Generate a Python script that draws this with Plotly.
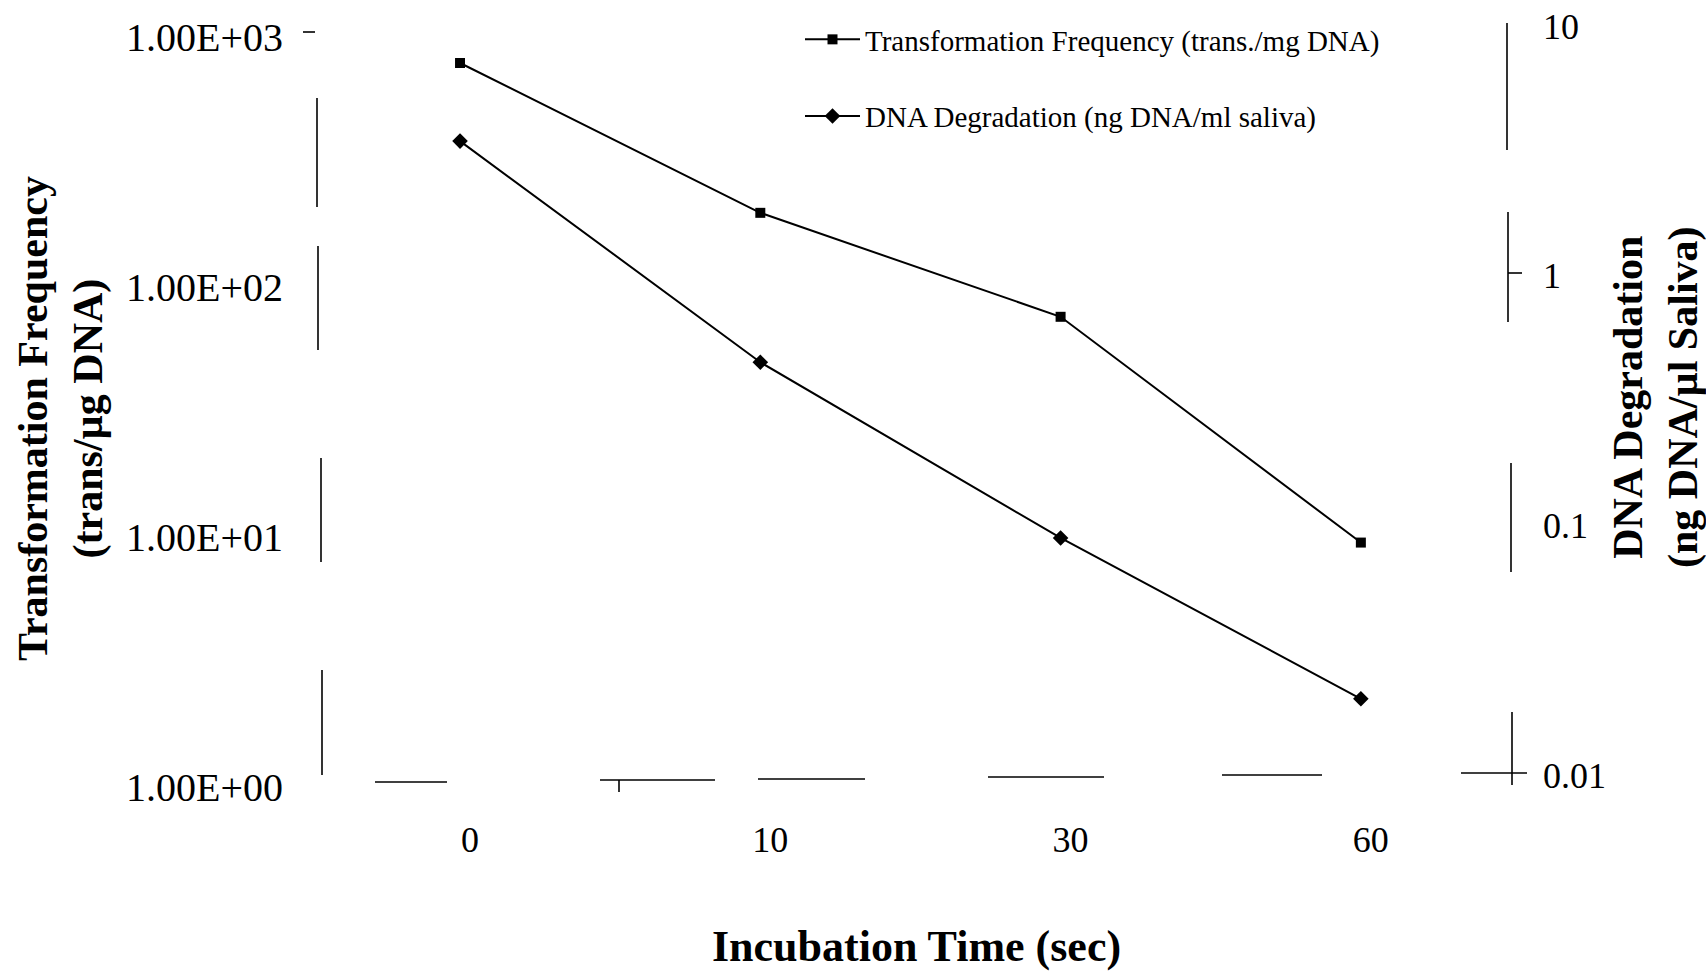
import plotly.graph_objects as go

# Incubation times (sec) and measured series
times = ["0", "10", "30", "60"]
trans_freq = [787, 198, 76, 9.5]            # transformants per µg DNA (left axis)
dna_degradation = [3.46, 0.45, 0.089, 0.0202]  # ng DNA per µl saliva (right axis)

left_tickvals = [1, 10, 100, 1000]
left_ticktext = ["1.00E+00", "1.00E+01", "1.00E+02", "1.00E+03"]
right_tickvals = [0.01, 0.1, 1, 10]
right_ticktext = ["0.01", "0.1", "1", "10"]

W, H = 1706, 978
ML, MR, MT, MB = 318, 198, 24, 191
PW, PH = W - ML - MR, H - MT - MB

FONT = "Liberation Serif, Times New Roman, serif"


def to_paper(px, py):
    return (px - ML) / PW, (H - MB - py) / PH


# Fragments of the axis frame (the printed frame is broken into pieces)
frame_segments = [
    # left axis
    ((317, 98), (317, 207)), ((318, 246), (318, 350)),
    ((321, 458), (321, 562)), ((322, 670), (322, 775)),
    ((303, 32), (315, 32)),
    # right axis
    ((1507, 23), (1507, 150)), ((1508, 212), (1508, 322)),
    ((1508, 273), (1522, 273)),
    ((1511, 463), (1511, 572)), ((1512, 712), (1512, 785)),
    ((1461, 773), (1527, 773)),
    # bottom axis
    ((375, 782), (447, 782)), ((600, 780), (715, 780)),
    ((619, 780), (619, 792)), ((758, 779), (865, 779)),
    ((988, 777), (1104, 777)), ((1222, 775), (1322, 775)),
]

shapes = []
for (x0, y0), (x1, y1) in frame_segments:
    a0, b0 = to_paper(x0, y0)
    a1, b1 = to_paper(x1, y1)
    shapes.append(dict(type="line", xref="paper", yref="paper",
                       x0=a0, y0=b0, x1=a1, y1=b1,
                       line=dict(color="black", width=1.6)))

fig = go.Figure()
fig.add_trace(go.Scatter(
    x=times, y=trans_freq, mode="lines+markers",
    name="Transformation Frequency (trans./mg DNA)",
    line=dict(color="black", width=2),
    marker=dict(symbol="square", size=10, color="black"),
    legendgroup="a",
))
fig.add_trace(go.Scatter(
    x=times, y=dna_degradation, mode="lines+markers", yaxis="y2",
    name="DNA Degradation (ng DNA/ml saliva)",
    line=dict(color="black", width=2),
    marker=dict(symbol="diamond", size=12, color="black"),
    legendgroup="b",
))

tx, ty = to_paper(61, 419)
rx, ry = to_paper(1656, 397)
bx, by = to_paper(916, 946)

fig.update_layout(
    width=W, height=H,
    margin=dict(l=ML, r=MR, t=MT, b=MB, autoexpand=False),
    paper_bgcolor="white", plot_bgcolor="white",
    font=dict(family=FONT, color="black"),
    showlegend=True,
    legend=dict(
        x=to_paper(800, 0)[0], xanchor="left",
        y=to_paper(0, 14)[1], yanchor="top",
        font=dict(family=FONT, size=29, color="black"),
        bgcolor="rgba(0,0,0,0)", itemwidth=55,
        tracegroupgap=36,
    ),
    xaxis=dict(
        type="category", range=[-0.473, 3.49],
        showline=False, showgrid=False, zeroline=False, ticks="",
        tickfont=dict(family=FONT, size=36, color="black"),
        ticklabelshift=10, ticklabelstandoff=28,
    ),
    yaxis=dict(
        type="log", range=[0, 3.052],
        tickvals=left_tickvals, ticktext=left_ticktext,
        showline=False, showgrid=False, zeroline=False, ticks="",
        tickfont=dict(family=FONT, size=40, color="black"),
        ticklabelstandoff=34,
    ),
    yaxis2=dict(
        type="log", range=[-2.048, 1.008], overlaying="y", side="right",
        tickvals=right_tickvals, ticktext=right_ticktext,
        showline=False, showgrid=False, zeroline=False, ticks="",
        tickfont=dict(family=FONT, size=36, color="black"),
        ticklabelstandoff=34,
    ),
    shapes=shapes,
    annotations=[
        dict(text="<b>Transformation Frequency<br>(trans/µg DNA)</b>",
             xref="paper", yref="paper", x=tx, y=ty, textangle=-90,
             showarrow=False, font=dict(family=FONT, size=42, color="black"),
             xanchor="center", yanchor="middle"),
        dict(text="<b>DNA Degradation<br>(ng DNA/µl Saliva)</b>",
             xref="paper", yref="paper", x=rx, y=ry, textangle=-90,
             showarrow=False, font=dict(family=FONT, size=42, color="black"),
             xanchor="center", yanchor="middle"),
        dict(text="<b>Incubation Time (sec)</b>",
             xref="paper", yref="paper", x=bx, y=by,
             showarrow=False, font=dict(family=FONT, size=44, color="black"),
             xanchor="center", yanchor="middle"),
    ],
)

fig.write_html("out.html")
